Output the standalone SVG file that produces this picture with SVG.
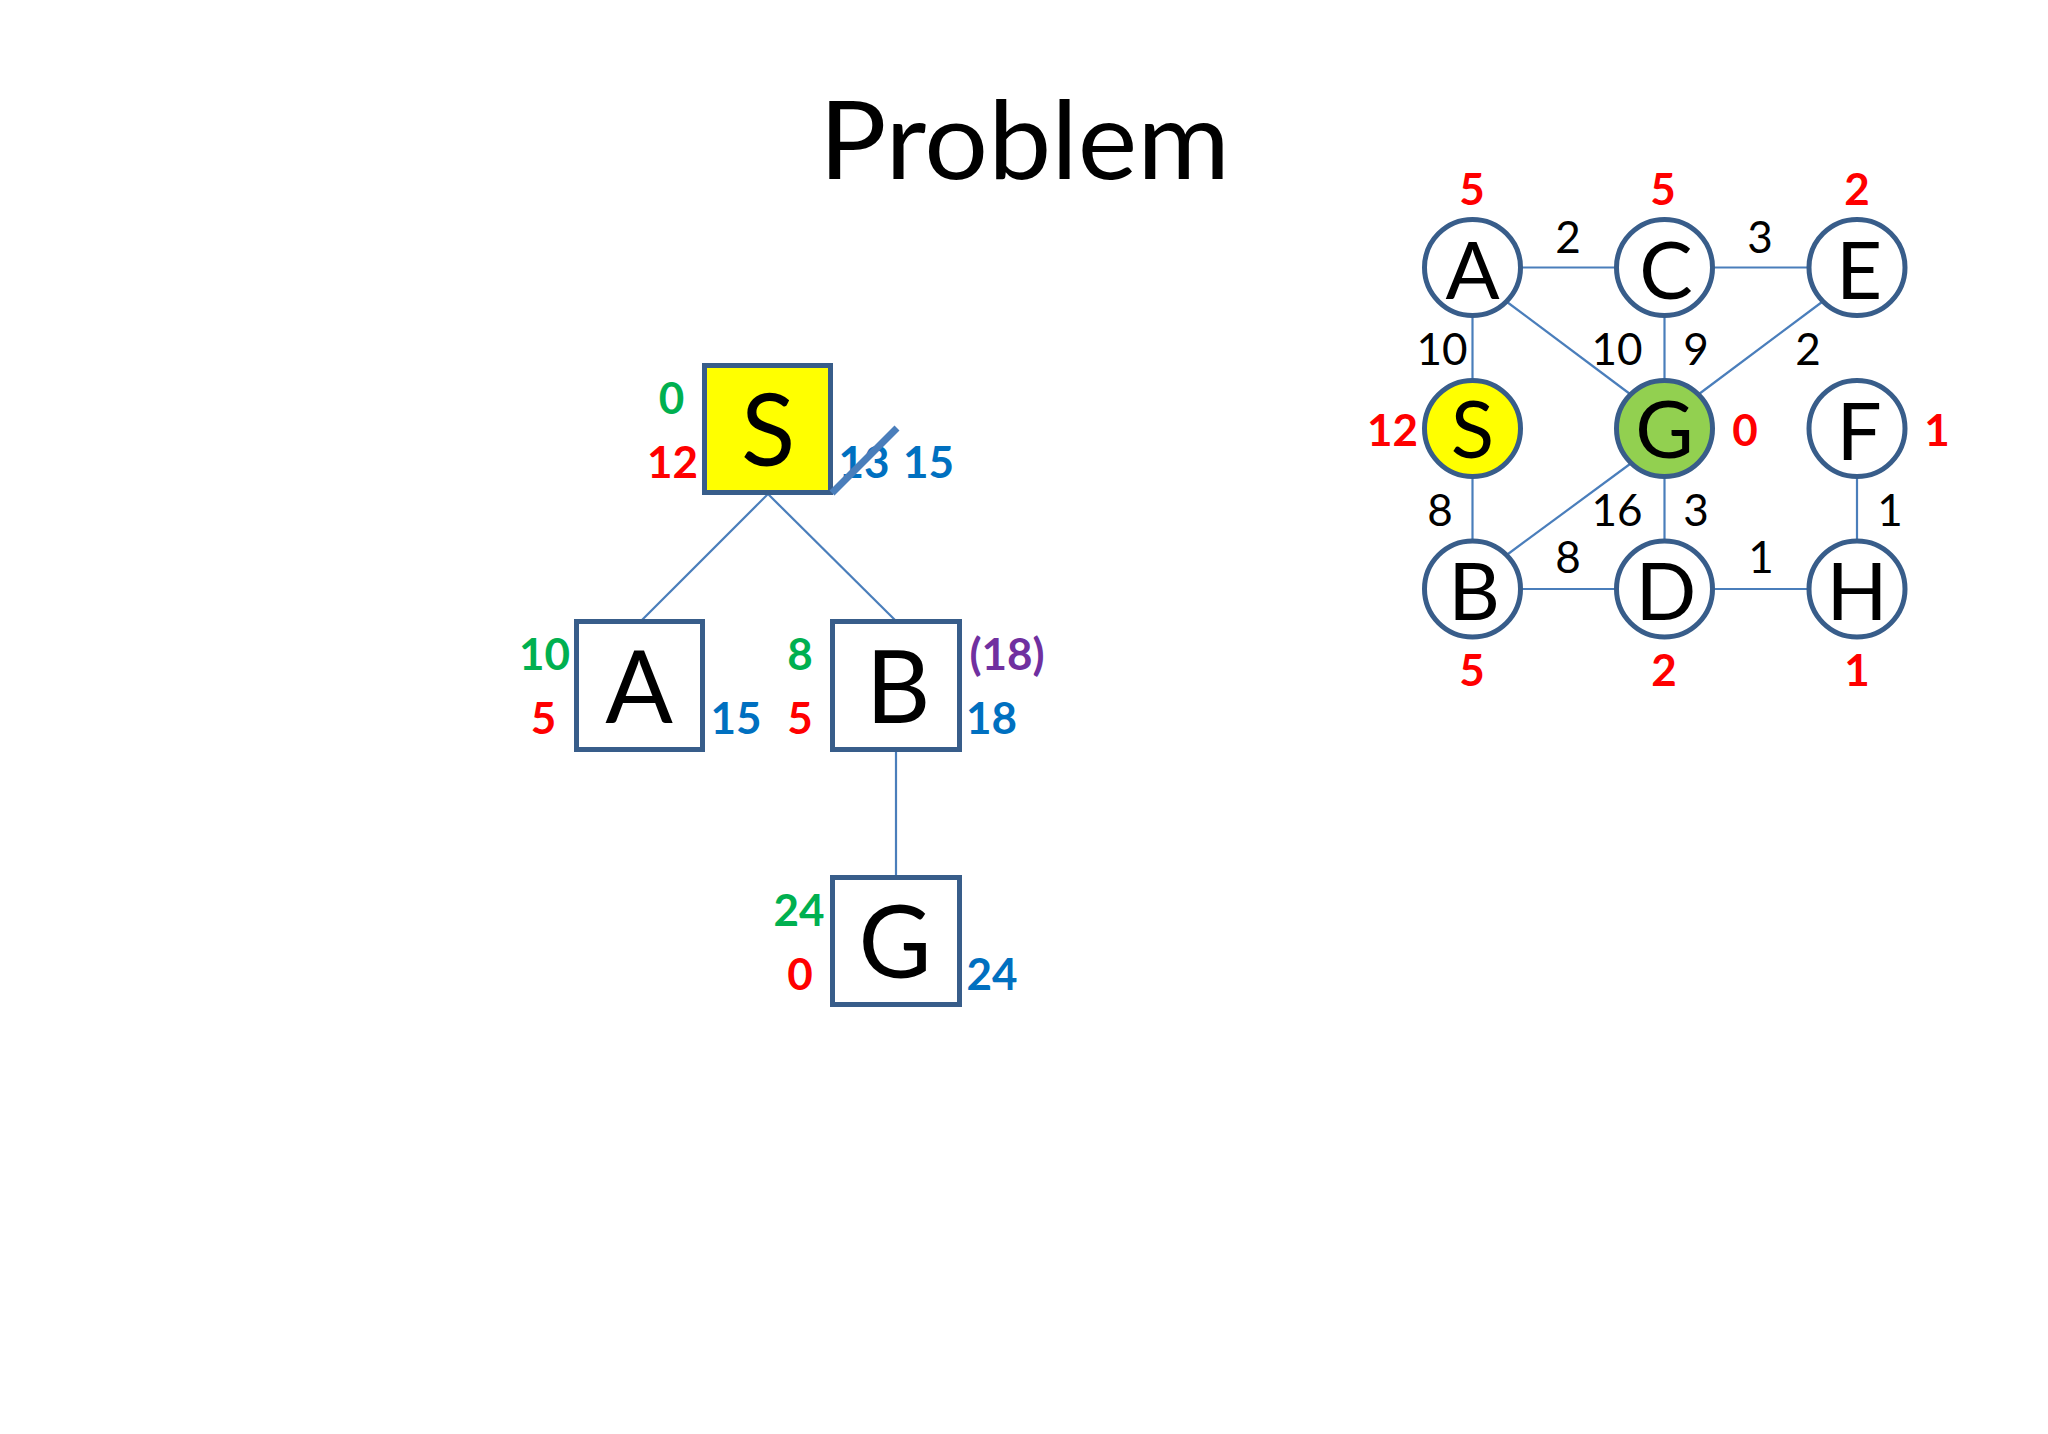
<svg xmlns="http://www.w3.org/2000/svg" width="2048" height="1434" viewBox="0 0 2048 1434">
<style>
.bg{fill:#ffffff}
.title{font-family:Lato,"Open Sans","Liberation Sans",sans-serif;font-size:109px;fill:#000}
.box{fill:#ffffff;stroke:#385d8a;stroke-width:5}
.circ{fill:#ffffff;stroke:#385d8a;stroke-width:5}
.big{font-family:Lato,"Open Sans","Liberation Sans",sans-serif;font-size:100px;fill:#000;text-anchor:middle}
.mid{font-family:Lato,"Open Sans","Liberation Sans",sans-serif;font-size:80px;fill:#000;text-anchor:middle}
.num{font-family:Lato,"Open Sans","Liberation Sans",sans-serif;font-size:44px;font-weight:bold;text-anchor:middle}
.w{font-family:Lato,"Open Sans","Liberation Sans",sans-serif;font-size:44px;fill:#000;text-anchor:middle}
.red{fill:#ff0000}.green{fill:#00b050}.blue{fill:#0070c0}.purple{fill:#7030a0}
.edge{stroke:#4a7ebb;stroke-width:2.2;fill:none}
</style>
<rect class="bg" x="0" y="0" width="2048" height="1434"/>
<text class="title" x="819" y="179" textLength="411" lengthAdjust="spacingAndGlyphs">Problem</text>

<g id="tree-connectors">
<line class="edge" x1="768" y1="494" x2="642" y2="620"/>
<line class="edge" x1="768" y1="494" x2="895" y2="620"/>
<line class="edge" x1="896" y1="751" x2="896" y2="876"/>
</g>

<g id="tree-S">
<rect class="box" x="704.5" y="365.5" width="126" height="127" style="fill:#ffff00"/>
<text class="big" x="768" y="466">S</text>
<text class="num green" x="671.5" y="414">0</text>
<text class="num red" x="672.5" y="478">12</text>
<text class="num blue" x="864" y="478">13</text>
<text class="num blue" x="928.5" y="478">15</text>
<line x1="832" y1="493" x2="897" y2="428" stroke="#4a7ebb" stroke-width="7"/>
</g>
<g id="tree-A">
<rect class="box" x="576.5" y="621.5" width="126" height="128"/>
<text class="big" x="639" y="723">A</text>
<text class="num green" x="544.5" y="670">10</text>
<text class="num red" x="543.5" y="734">5</text>
<text class="num blue" x="736" y="734">15</text>
</g>
<g id="tree-B">
<rect class="box" x="832.5" y="621.5" width="127" height="128"/>
<text class="big" x="898" y="723">B</text>
<text class="num green" x="800" y="670">8</text>
<text class="num red" x="800" y="734">5</text>
<text class="num purple" x="1007" y="670">(18)</text>
<text class="num blue" x="991.5" y="734">18</text>
</g>
<g id="tree-G">
<rect class="box" x="832.5" y="877.5" width="127" height="127"/>
<text class="big" x="895" y="978">G</text>
<text class="num green" x="799" y="926">24</text>
<text class="num red" x="800" y="990">0</text>
<text class="num blue" x="992" y="990">24</text>
</g>

<g id="graph-connectors">
<line class="edge" x1="1522" y1="267.5" x2="1615" y2="267.5"/>
<line class="edge" x1="1714" y1="267.5" x2="1807" y2="267.5"/>
<line class="edge" x1="1472.5" y1="317" x2="1472.5" y2="379"/>
<line class="edge" x1="1664.5" y1="317" x2="1664.5" y2="379"/>
<line class="edge" x1="1507" y1="302" x2="1630" y2="394"/>
<line class="edge" x1="1822" y1="302" x2="1699" y2="394"/>
<line class="edge" x1="1472.5" y1="478" x2="1472.5" y2="539"/>
<line class="edge" x1="1664.5" y1="478" x2="1664.5" y2="539"/>
<line class="edge" x1="1857" y1="478" x2="1857" y2="539"/>
<line class="edge" x1="1630" y1="464" x2="1508" y2="554"/>
<line class="edge" x1="1522" y1="589" x2="1615" y2="589"/>
<line class="edge" x1="1714" y1="589" x2="1807" y2="589"/>
<text class="w" x="1568" y="253">2</text>
<text class="w" x="1760" y="253">3</text>
<text class="w" x="1442" y="365">10</text>
<text class="w" x="1617" y="365">10</text>
<text class="w" x="1696" y="365">9</text>
<text class="w" x="1808" y="365">2</text>
<text class="w" x="1440" y="526">8</text>
<text class="w" x="1617" y="526">16</text>
<text class="w" x="1696" y="526">3</text>
<text class="w" x="1890" y="526">1</text>
<text class="w" x="1568" y="573">8</text>
<text class="w" x="1761" y="573">1</text>
</g>

<g id="node-A">
<circle class="circ" cx="1472.5" cy="267.5" r="48"/>
<text class="mid" x="1472.5" y="299">A</text>
<text class="num red" x="1472" y="205">5</text>
</g>
<g id="node-C">
<circle class="circ" cx="1664.5" cy="267.5" r="48"/>
<text class="mid" x="1666" y="299">C</text>
<text class="num red" x="1663" y="205">5</text>
</g>
<g id="node-E">
<circle class="circ" cx="1857" cy="267.5" r="48"/>
<text class="mid" x="1859" y="299">E</text>
<text class="num red" x="1857" y="205">2</text>
</g>
<g id="node-S">
<circle class="circ" cx="1472.5" cy="428.5" r="48" style="fill:#ffff00"/>
<text class="mid" x="1472.5" y="458">S</text>
<text class="num red" x="1392.5" y="446">12</text>
</g>
<g id="node-G">
<circle class="circ" cx="1664.5" cy="428.5" r="48" style="fill:#92d050"/>
<text class="mid" x="1664.5" y="458">G</text>
<text class="num red" x="1745" y="446">0</text>
</g>
<g id="node-F">
<circle class="circ" cx="1857" cy="428.5" r="48"/>
<text class="mid" x="1859" y="460">F</text>
<text class="num red" x="1937" y="446">1</text>
</g>
<g id="node-B">
<circle class="circ" cx="1472.5" cy="589" r="48"/>
<text class="mid" x="1474" y="620">B</text>
<text class="num red" x="1472" y="686">5</text>
</g>
<g id="node-D">
<circle class="circ" cx="1664.5" cy="589" r="48"/>
<text class="mid" x="1666" y="620">D</text>
<text class="num red" x="1664" y="686">2</text>
</g>
<g id="node-H">
<circle class="circ" cx="1857" cy="589" r="48"/>
<text class="mid" x="1857" y="620">H</text>
<text class="num red" x="1857" y="686">1</text>
</g>
</svg>
